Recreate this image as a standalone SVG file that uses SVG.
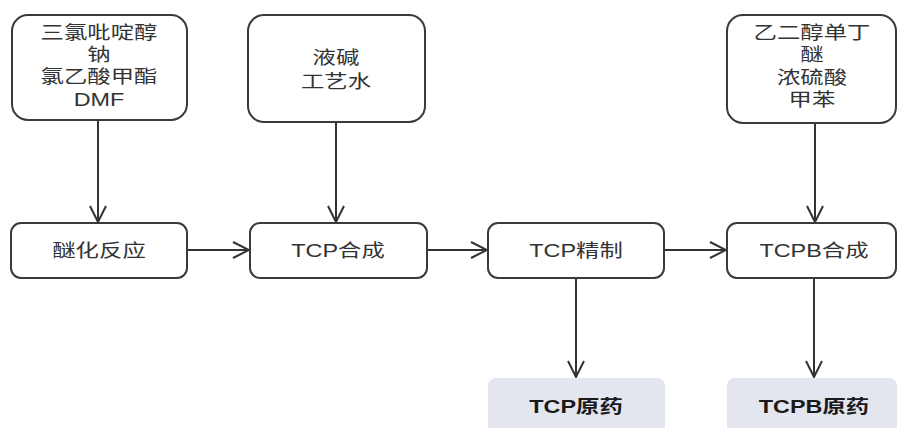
<svg xmlns="http://www.w3.org/2000/svg" width="899" height="428" viewBox="0 0 899 428">
<defs>
<style>
.box{fill:#ffffff;stroke:#3a3a3a;stroke-width:2}
.out{fill:#e3e6ef;stroke:none}
.t{font-family:"Liberation Sans","Noto Sans CJK SC",sans-serif;font-size:18px;fill:#333333;text-anchor:middle;dominant-baseline:central}
.b{font-family:"Liberation Sans","Noto Sans CJK SC",sans-serif;font-size:18px;font-weight:bold;fill:#1a1a1a;text-anchor:middle;dominant-baseline:central}
.c{fill:none;stroke:#333333;stroke-width:2}
</style>
<marker id="arr" viewBox="0 0 20 20" refX="18" refY="10" markerWidth="20" markerHeight="20" markerUnits="userSpaceOnUse" orient="auto">
<path d="M2,2 L18,10 L2,18" fill="none" stroke="#333333" stroke-width="2"/>
</marker>
</defs>
<rect width="899" height="428" fill="#ffffff"/>
<g id="connectors">
<line class="c" x1="98" y1="121" x2="98" y2="222" marker-end="url(#arr)"/>
<line class="c" x1="336" y1="122" x2="336" y2="222" marker-end="url(#arr)"/>
<line class="c" x1="815" y1="123" x2="815" y2="222" marker-end="url(#arr)"/>
<line class="c" x1="188" y1="250" x2="249" y2="250" marker-end="url(#arr)"/>
<line class="c" x1="428" y1="250" x2="487" y2="250" marker-end="url(#arr)"/>
<line class="c" x1="665" y1="250" x2="726" y2="250" marker-end="url(#arr)"/>
<line class="c" x1="576" y1="279" x2="576" y2="377" marker-end="url(#arr)"/>
<line class="c" x1="814" y1="279" x2="814" y2="377" marker-end="url(#arr)"/>
</g>
<g id="n1">
<rect class="box" x="12" y="15" width="175" height="105" rx="16"/>
<text class="t" transform="translate(99,33) scale(1.3,1)">三氯吡啶醇</text>
<text class="t" transform="translate(99,55) scale(1.3,1)">钠</text>
<text class="t" transform="translate(99,77) scale(1.3,1)">氯乙酸甲酯</text>
<text class="t" transform="translate(99,100) scale(1.3,1)">DMF</text>
</g>
<g id="n2">
<rect class="box" x="248" y="15" width="177" height="107" rx="16"/>
<text class="t" transform="translate(336,58) scale(1.3,1)">液碱</text>
<text class="t" transform="translate(336,82) scale(1.3,1)">工艺水</text>
</g>
<g id="n3">
<rect class="box" x="727" y="15" width="169" height="108" rx="16"/>
<text class="t" transform="translate(812,33) scale(1.3,1)">乙二醇单丁</text>
<text class="t" transform="translate(812,55) scale(1.3,1)">醚</text>
<text class="t" transform="translate(812,78) scale(1.3,1)">浓硫酸</text>
<text class="t" transform="translate(812,100) scale(1.3,1)">甲苯</text>
</g>
<g id="n4">
<rect class="box" x="11" y="223" width="176" height="55" rx="10"/>
<text class="t" transform="translate(99,251) scale(1.3,1)">醚化反应</text>
</g>
<g id="n5">
<rect class="box" x="250" y="223" width="177" height="55" rx="10"/>
<text class="t" transform="translate(338,251) scale(1.3,1)">TCP合成</text>
</g>
<g id="n6">
<rect class="box" x="488" y="223" width="176" height="55" rx="10"/>
<text class="t" transform="translate(576,251) scale(1.3,1)">TCP精制</text>
</g>
<g id="n7">
<rect class="box" x="727" y="223" width="169" height="55" rx="10"/>
<text class="t" transform="translate(814,251) scale(1.3,1)">TCPB合成</text>
</g>
<g id="n8">
<rect class="out" x="488" y="378" width="177" height="60" rx="8"/>
<text class="b" transform="translate(576,407) scale(1.3,1)">TCP原药</text>
</g>
<g id="n9">
<rect class="out" x="727" y="378" width="170" height="60" rx="8"/>
<text class="b" transform="translate(814,407) scale(1.3,1)">TCPB原药</text>
</g>
</svg>
